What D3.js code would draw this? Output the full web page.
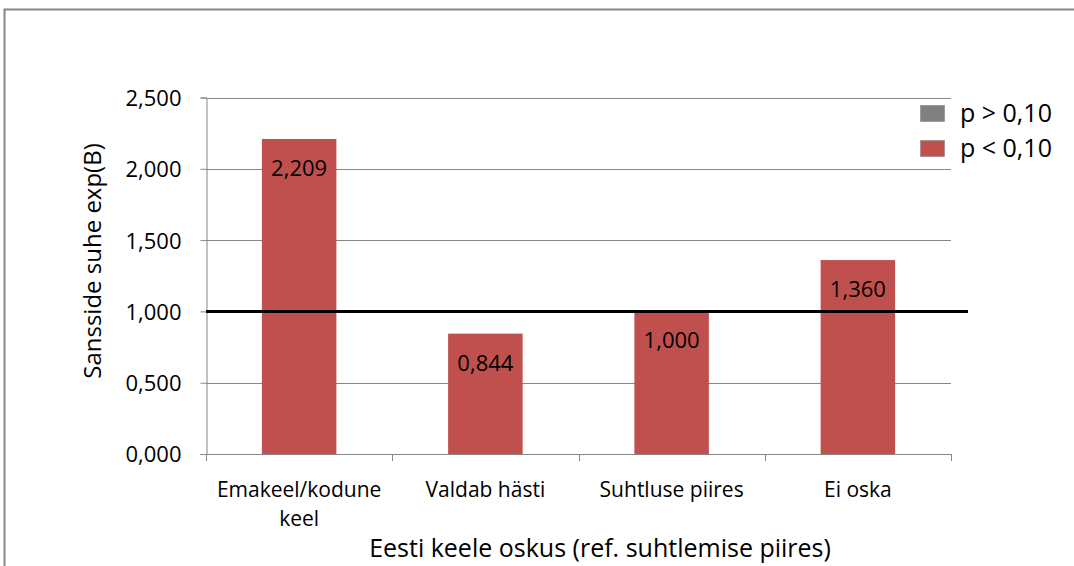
<!DOCTYPE html>
<html><head><meta charset="utf-8">
<script src="https://cdn.jsdelivr.net/npm/d3@7"></script>
<style>body{margin:0;background:#fff}svg{display:block}text{font-family:"Open Sans",sans-serif;fill:#000}</style>
</head><body><svg id="c" width="1074" height="566"></svg>
<script>
const categories = ["Emakeel/kodune keel", "Valdab hästi", "Suhtluse piires", "Ei oska"];
const values = [2.209, 0.844, 1.000, 1.360];
const significance = ["p < 0,10", "p < 0,10", "p < 0,10", "p < 0,10"];
const legendLabels = ["p > 0,10", "p < 0,10"];
const yTicks = [0, 0.5, 1.0, 1.5, 2.0, 2.5];
const refValue = 1.0;
const yTitle = "Sansside suhe exp(B)";
const xTitle = "Eesti keele oskus (ref. suhtlemise piires)";

const colors = {"p > 0,10": "#808080", "p < 0,10": "#C0504D"};
const svg = d3.select("#c");
const fmt = v => d3.format(".3f")(v).replace(".", ",");

// outer border
svg.append("rect").attr("x",4.5).attr("y",9.5).attr("width",1080).attr("height",600)
  .attr("fill","none").attr("stroke","#868686").attr("stroke-width",2);

const L = 206, R = 951, T = 97.5, B = 454;
const x = d3.scaleBand().domain(categories).range([L, R]).paddingInner(0.6).paddingOuter(0.3);
const y = d3.scaleLinear().domain([0, 2.5]).range([B, T]);

// gridlines
svg.append("g").selectAll("line").data(yTicks.filter(d=>d>0)).join("line")
  .attr("x1",L).attr("x2",R).attr("y1",d=>Math.round(y(d))+0.5).attr("y2",d=>Math.round(y(d))+0.5)
  .attr("stroke","#868686").attr("stroke-width",1);

// y axis
const yAxis = svg.append("g").attr("transform",`translate(${L+0.5},0)`)
  .call(d3.axisLeft(y).tickValues(yTicks).tickFormat(fmt).tickSize(6).tickPadding(19));
yAxis.selectAll("path,line").attr("stroke","#868686");
yAxis.selectAll("text").style("font-size","22px").attr("font-family",null).attr("dy","0.36em");

// bars
svg.append("g").selectAll("rect").data(categories).join("rect")
  .attr("x",d=>x(d)).attr("width",x.bandwidth())
  .attr("y",(d,i)=>y(values[i])).attr("height",(d,i)=>y(0)-y(values[i]))
  .attr("fill",(d,i)=>colors[significance[i]]);

// x axis
const xb = d3.scaleLinear().domain([0, categories.length]).range([L, R]);
const xg = svg.append("g");
xg.append("line").attr("x1",L).attr("x2",R).attr("y1",B+0.5).attr("y2",B+0.5).attr("stroke","#868686");
xg.selectAll("line.t").data(d3.range(categories.length+1)).join("line").attr("class","t")
  .attr("x1",d=>Math.round(xb(d))+0.5).attr("x2",d=>Math.round(xb(d))+0.5)
  .attr("y1",B).attr("y2",B+7).attr("stroke","#868686");

// x labels
categories.forEach((c,i)=>{
  const cx = x(c)+x.bandwidth()/2;
  let lines = c === "Emakeel/kodune keel" ? ["Emakeel/kodune","keel"] : [c];
  lines.forEach((t,j)=>{
    svg.append("text").attr("x",cx).attr("y",497+j*29).attr("text-anchor","middle")
      .style("font-size","21px").text(t);
  });
});

// reference line
svg.append("line").attr("x1",L).attr("x2",968).attr("y1",y(refValue)).attr("y2",y(refValue))
  .attr("stroke","#000").attr("stroke-width",3);

// data labels
svg.append("g").selectAll("text").data(categories).join("text")
  .attr("x",d=>x(d)+x.bandwidth()/2).attr("y",(d,i)=>y(values[i])+37)
  .attr("text-anchor","middle").style("font-size","22px")
  .text((d,i)=>fmt(values[i]));

// titles
svg.append("text").attr("transform",`translate(101,261) rotate(-90)`)
  .attr("text-anchor","middle").style("font-size","24px").text(yTitle);
svg.append("text").attr("x",600).attr("y",557).attr("text-anchor","middle")
  .style("font-size","25px").text(xTitle);

// legend
legendLabels.forEach((l,i)=>{
  const ly = 105 + i*35;
  svg.append("rect").attr("x",920.5).attr("y",ly+0.5).attr("width",24).attr("height",16)
    .attr("fill",colors[l]).attr("stroke","#888").attr("stroke-width",0.6);
  svg.append("text").attr("x",960).attr("y",ly+17).style("font-size","25px").text(l);
});
</script></body></html>
